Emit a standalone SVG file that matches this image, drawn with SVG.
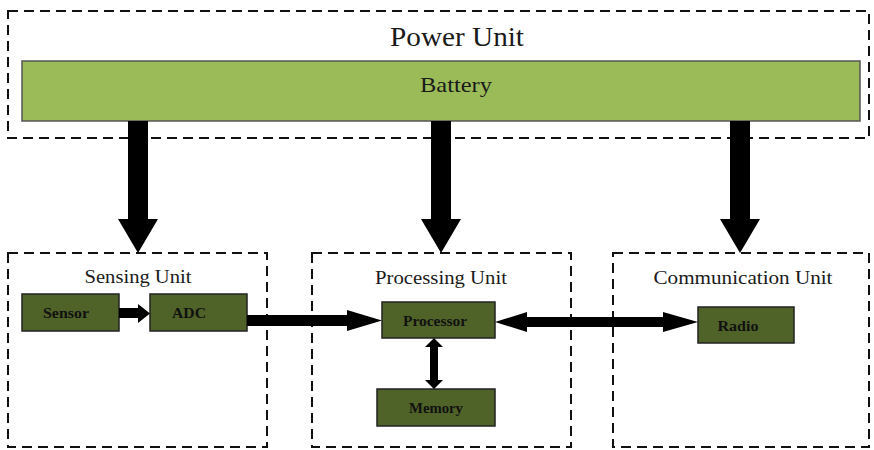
<svg xmlns="http://www.w3.org/2000/svg" width="874" height="450" viewBox="0 0 874 450">
<style>
.unit{fill:none;stroke:#111;stroke-width:2;stroke-dasharray:10 6}
.title{font-family:"Liberation Serif","Times New Roman",serif;fill:#1a1a1a;text-anchor:middle}
.blk{fill:#4F6228;stroke:#222;stroke-width:1.5}
.lbl{font-family:"Liberation Serif","Times New Roman",serif;font-weight:bold;font-size:14px;fill:#111;text-anchor:middle}
.arr{fill:#000}
</style>
<rect width="874" height="450" fill="#fff"/>
<g id="power-unit">
<rect class="unit" x="8" y="11" width="861" height="127"/>
<text class="title" x="457" y="46" font-size="27" textLength="134" lengthAdjust="spacingAndGlyphs">Power Unit</text>
</g>
<g id="battery">
<rect x="22" y="61" width="838" height="60" fill="#9BBB59" stroke="#555" stroke-width="1.5"/>
<text class="title" x="456" y="92" font-size="21" textLength="72" lengthAdjust="spacingAndGlyphs">Battery</text>
</g>
<g id="sensing-unit">
<rect class="unit" x="8" y="253" width="259" height="194"/>
<text class="title" x="138" y="283" font-size="18" textLength="107" lengthAdjust="spacingAndGlyphs">Sensing Unit</text>
</g>
<g id="processing-unit">
<rect class="unit" x="312" y="253" width="259" height="194"/>
<text class="title" x="441" y="284" font-size="18" textLength="132" lengthAdjust="spacingAndGlyphs">Processing Unit</text>
</g>
<g id="communication-unit">
<rect class="unit" x="613" y="253" width="256" height="194"/>
<text class="title" x="743" y="284" font-size="18" textLength="179" lengthAdjust="spacingAndGlyphs">Communication Unit</text>
</g>
<g id="sensor">
<rect class="blk" x="22" y="294" width="97" height="37"/>
<text class="lbl" x="66" y="318" textLength="46" lengthAdjust="spacingAndGlyphs">Sensor</text>
</g>
<g id="adc">
<rect class="blk" x="150" y="294" width="97" height="37"/>
<text class="lbl" x="189" y="318" textLength="34" lengthAdjust="spacingAndGlyphs">ADC</text>
</g>
<g id="processor">
<rect class="blk" x="382" y="302" width="113" height="36"/>
<text class="lbl" x="435" y="326" textLength="64" lengthAdjust="spacingAndGlyphs">Processor</text>
</g>
<g id="memory">
<rect class="blk" x="377" y="389" width="118" height="37"/>
<text class="lbl" x="436" y="413" textLength="54" lengthAdjust="spacingAndGlyphs">Memory</text>
</g>
<g id="radio">
<rect class="blk" x="698" y="307" width="96" height="36"/>
<text class="lbl" x="738" y="331" textLength="41" lengthAdjust="spacingAndGlyphs">Radio</text>
</g>
<g id="connectors">
<polygon class="arr" points="128,121 148,121 148,219 158,219 138,253 118,219 128,219"/>
<polygon class="arr" points="431,121 451,121 451,219 461,219 441,253 421,219 431,219"/>
<polygon class="arr" points="730,121 750,121 750,219 760,219 740,253 720,219 730,219"/>
<polygon class="arr" points="119,308 138,308 138,304 150,313.5 138,323 138,318 119,318"/>
<polygon class="arr" points="247,315 347,315 347,310 382,320.5 347,331 347,326 247,326"/>
<polygon class="arr" points="495,322 527,312 527,317 663,317 663,312 698,322 663,332 663,327 527,327 527,332"/>
<polygon class="arr" points="434,338 443,347 438,347 438,380 443,380 434,389 425,380 430,380 430,347 425,347"/>
</g>
</svg>
